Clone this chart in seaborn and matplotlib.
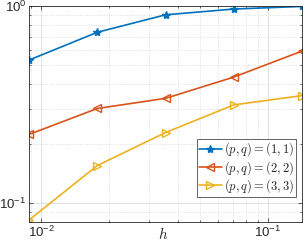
import numpy as np
import pandas as pd
import matplotlib
matplotlib.use("Agg")
import matplotlib.pyplot as plt
import seaborn as sns

# mesh sizes and errors per (p, q)
h = [0.00884, 0.01768, 0.03536, 0.07071, 0.14142]
err_11 = [0.532, 0.736, 0.903, 0.966, 0.996]
err_22 = [0.223, 0.302, 0.340, 0.436, 0.591]
err_33 = [0.082, 0.155, 0.228, 0.315, 0.351]
labels = [r"$(p,q)=(1,1)$", r"$(p,q)=(2,2)$", r"$(p,q)=(3,3)$"]

colors = ["#0072BD", "#D95319", "#EDB120"]
markers = ["*", "<", ">"]

sns.set_style("ticks")
plt.rcParams["font.family"] = ["Liberation Sans", "DejaVu Sans"]
plt.rcParams["mathtext.fontset"] = "cm"

fig = plt.figure(figsize=(3.06, 2.43), dpi=100)
ax = fig.add_axes([0.095, 0.086, 0.892, 0.889])

for err, lab, c, m in zip([err_11, err_22, err_33], labels, colors, markers):
    df = pd.DataFrame({"h": h, "err": err})
    face = c if m == "*" else "none"
    sns.lineplot(data=df, x="h", y="err", ax=ax, color=c, marker=m, markersize=6,
                 markerfacecolor=face, markeredgecolor=c, markeredgewidth=1.0,
                 linewidth=1.2, label=lab)

ax.set_xscale("log")
ax.set_yscale("log")
ax.set_xlim(h[0], h[-1])
ax.set_ylim(0.08, 1.0)

ax.grid(True, which="major", color="#dcdcdc", linewidth=0.6)
ax.grid(True, which="minor", color="#d8d8d8", linewidth=0.6, linestyle=":")
ax.set_axisbelow(True)
ax.tick_params(which="both", direction="in", top=True, right=True,
               labelsize=9.5, colors="#262626", width=0.5)
ax.tick_params(which="major", length=3, pad=2)
ax.tick_params(which="minor", length=1.5)
ax.yaxis.set_minor_formatter(matplotlib.ticker.NullFormatter())
ax.xaxis.set_minor_formatter(matplotlib.ticker.NullFormatter())
for s in ax.spines.values():
    s.set_color("#262626")
    s.set_linewidth(0.6)

ax.set_xlabel(r"$h$", fontsize=11)
ax.xaxis.set_label_coords(0.49, -0.055)
ax.xaxis.label.set_va("center")
ax.set_ylabel("")

leg = ax.legend(loc="lower right", bbox_to_anchor=(0.978, 0.116), borderaxespad=0,
                fontsize=9, handlelength=1.8, handletextpad=0.2, borderpad=0.15,
                labelspacing=0.05, fancybox=False, framealpha=1)
leg.get_frame().set_edgecolor("#262626")
leg.get_frame().set_linewidth(0.5)

fig.savefig("out.png", dpi=100)
